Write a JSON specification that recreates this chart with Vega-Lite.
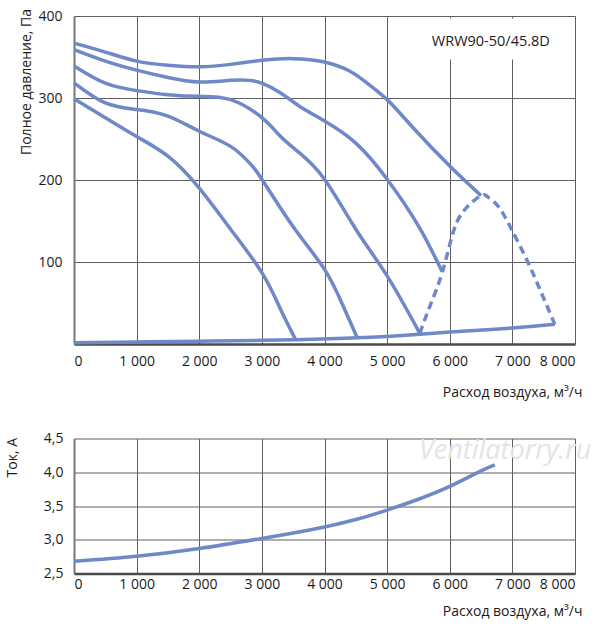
{
  "$schema": "https://vega.github.io/schema/vega-lite/v6.json",
  "padding": {"left": 5, "top": 8, "right": 5, "bottom": 5},
  "bounds": "flush",
  "spacing": 94.5,
  "background": "white",
  "config": {
    "font": "Open Sans",
    "view": {"stroke": null},
    "axis": {
      "grid": true,
      "gridColor": "#5f5f5f",
      "gridWidth": 1,
      "ticks": false,
      "labelFont": "Open Sans",
      "labelFontSize": 14,
      "labelColor": "#1d1a1b",
      "titleFont": "Open Sans",
      "titleFontSize": 14,
      "titleFontWeight": "normal",
      "titleColor": "#1d1a1b"
    },
    "axisX": {"domainColor": "#4a4a4a", "domainWidth": 2.5},
    "axisY": {"domainColor": "#777777", "domainWidth": 2}
  },
  "datasets": {
    "pressure": [
      {"series": "n1", "kind": "solid", "q": 0, "p": 367},
      {"series": "n1", "kind": "solid", "q": 500, "p": 356},
      {"series": "n1", "kind": "solid", "q": 1000, "p": 345},
      {"series": "n1", "kind": "solid", "q": 1500, "p": 340},
      {"series": "n1", "kind": "solid", "q": 2000, "p": 338},
      {"series": "n1", "kind": "solid", "q": 2500, "p": 341},
      {"series": "n1", "kind": "solid", "q": 3000, "p": 346},
      {"series": "n1", "kind": "solid", "q": 3500, "p": 348},
      {"series": "n1", "kind": "solid", "q": 4000, "p": 344},
      {"series": "n1", "kind": "solid", "q": 4400, "p": 333},
      {"series": "n1", "kind": "solid", "q": 4650, "p": 320},
      {"series": "n1", "kind": "solid", "q": 5000, "p": 298},
      {"series": "n1", "kind": "solid", "q": 5400, "p": 265},
      {"series": "n1", "kind": "solid", "q": 6000, "p": 217},
      {"series": "n1", "kind": "solid", "q": 6500, "p": 181},
      {"series": "n2", "kind": "solid", "q": 0, "p": 359},
      {"series": "n2", "kind": "solid", "q": 500, "p": 345},
      {"series": "n2", "kind": "solid", "q": 1000, "p": 334},
      {"series": "n2", "kind": "solid", "q": 1500, "p": 325},
      {"series": "n2", "kind": "solid", "q": 2000, "p": 319.5},
      {"series": "n2", "kind": "solid", "q": 2500, "p": 321.5},
      {"series": "n2", "kind": "solid", "q": 2800, "p": 321.5},
      {"series": "n2", "kind": "solid", "q": 3000, "p": 318},
      {"series": "n2", "kind": "solid", "q": 3300, "p": 306},
      {"series": "n2", "kind": "solid", "q": 3600, "p": 290},
      {"series": "n2", "kind": "solid", "q": 4000, "p": 272},
      {"series": "n2", "kind": "solid", "q": 4500, "p": 245},
      {"series": "n2", "kind": "solid", "q": 5000, "p": 201},
      {"series": "n2", "kind": "solid", "q": 5500, "p": 144},
      {"series": "n2", "kind": "solid", "q": 5880, "p": 88},
      {"series": "n3", "kind": "solid", "q": 0, "p": 339},
      {"series": "n3", "kind": "solid", "q": 500, "p": 318},
      {"series": "n3", "kind": "solid", "q": 1000, "p": 309},
      {"series": "n3", "kind": "solid", "q": 1500, "p": 304},
      {"series": "n3", "kind": "solid", "q": 2000, "p": 302},
      {"series": "n3", "kind": "solid", "q": 2500, "p": 298},
      {"series": "n3", "kind": "solid", "q": 3000, "p": 276},
      {"series": "n3", "kind": "solid", "q": 3300, "p": 253},
      {"series": "n3", "kind": "solid", "q": 3600, "p": 233},
      {"series": "n3", "kind": "solid", "q": 4000, "p": 201},
      {"series": "n3", "kind": "solid", "q": 4500, "p": 140},
      {"series": "n3", "kind": "solid", "q": 5000, "p": 83},
      {"series": "n3", "kind": "solid", "q": 5522, "p": 13},
      {"series": "n4", "kind": "solid", "q": 0, "p": 318.5},
      {"series": "n4", "kind": "solid", "q": 500, "p": 294},
      {"series": "n4", "kind": "solid", "q": 1000, "p": 286},
      {"series": "n4", "kind": "solid", "q": 1500, "p": 278},
      {"series": "n4", "kind": "solid", "q": 2000, "p": 259.5},
      {"series": "n4", "kind": "solid", "q": 2500, "p": 241},
      {"series": "n4", "kind": "solid", "q": 2800, "p": 221},
      {"series": "n4", "kind": "solid", "q": 3000, "p": 201},
      {"series": "n4", "kind": "solid", "q": 3500, "p": 143},
      {"series": "n4", "kind": "solid", "q": 4000, "p": 91},
      {"series": "n4", "kind": "solid", "q": 4300, "p": 46},
      {"series": "n4", "kind": "solid", "q": 4526, "p": 7},
      {"series": "n5", "kind": "solid", "q": 0, "p": 299},
      {"series": "n5", "kind": "solid", "q": 500, "p": 276},
      {"series": "n5", "kind": "solid", "q": 1000, "p": 253},
      {"series": "n5", "kind": "solid", "q": 1500, "p": 229},
      {"series": "n5", "kind": "solid", "q": 2000, "p": 190},
      {"series": "n5", "kind": "solid", "q": 2500, "p": 140},
      {"series": "n5", "kind": "solid", "q": 3000, "p": 87},
      {"series": "n5", "kind": "solid", "q": 3300, "p": 42},
      {"series": "n5", "kind": "solid", "q": 3541, "p": 5},
      {"series": "sys", "kind": "solid", "q": 0, "p": 1.5},
      {"series": "sys", "kind": "solid", "q": 1000, "p": 2.5},
      {"series": "sys", "kind": "solid", "q": 2000, "p": 3.5},
      {"series": "sys", "kind": "solid", "q": 3000, "p": 4.5},
      {"series": "sys", "kind": "solid", "q": 3541, "p": 5.2},
      {"series": "sys", "kind": "solid", "q": 4526, "p": 7.5},
      {"series": "sys", "kind": "solid", "q": 5522, "p": 12},
      {"series": "sys", "kind": "solid", "q": 6000, "p": 14.5},
      {"series": "sys", "kind": "solid", "q": 7000, "p": 19.5},
      {"series": "sys", "kind": "solid", "q": 7678, "p": 24},
      {"series": "limit", "kind": "dashed", "q": 5522, "p": 13},
      {"series": "limit", "kind": "dashed", "q": 5682, "p": 46},
      {"series": "limit", "kind": "dashed", "q": 5879, "p": 87},
      {"series": "limit", "kind": "dashed", "q": 6054, "p": 136},
      {"series": "limit", "kind": "dashed", "q": 6241, "p": 164},
      {"series": "limit", "kind": "dashed", "q": 6500, "p": 181},
      {"series": "limit", "kind": "dashed", "q": 6613, "p": 179},
      {"series": "limit", "kind": "dashed", "q": 6773, "p": 168},
      {"series": "limit", "kind": "dashed", "q": 6986, "p": 140},
      {"series": "limit", "kind": "dashed", "q": 7252, "p": 99},
      {"series": "limit", "kind": "dashed", "q": 7465, "p": 62},
      {"series": "limit", "kind": "dashed", "q": 7678, "p": 24}
    ],
    "current": [
      {"q": 0, "i": 2.68},
      {"q": 1000, "i": 2.755},
      {"q": 2000, "i": 2.87},
      {"q": 3000, "i": 3.02},
      {"q": 3500, "i": 3.1},
      {"q": 4000, "i": 3.19},
      {"q": 4500, "i": 3.3},
      {"q": 5000, "i": 3.44},
      {"q": 5500, "i": 3.6},
      {"q": 6000, "i": 3.79},
      {"q": 6500, "i": 4.02},
      {"q": 6720, "i": 4.11}
    ],
    "model": [
      {"q": 6656, "p": 368, "q2": 5700, "q3": 7620, "p2": 347, "p3": 397, "text": "WRW90-50/45.8D"}
    ],
    "mark": [
      {"q": 6885, "i": 4.31, "text": "Ventilatorry.ru"}
    ]
  },
  "vconcat": [
    {
      "width": 501,
      "height": 328,
      "encoding": {
        "x": {
          "field": "q", "type": "quantitative",
          "scale": {"domain": [0, 8000], "nice": false},
          "axis": {
            "values": [0, 1000, 2000, 3000, 4000, 5000, 6000, 7000, 8000],
            "labelExpr": "replace(format(datum.value, ','), ',', ' ')",
            "labelPadding": 10,
            "title": "Расход воздуха, м³/ч",
            "titleAlign": "right",
            "titleBaseline": "middle",
            "titleX": 508,
            "titleY": 48
          }
        },
        "y": {
          "field": "p", "type": "quantitative",
          "scale": {"domain": [0, 400], "nice": false},
          "axis": {
            "values": [100, 200, 300, 400],
            "labelPadding": 12,
            "title": "Полное давление, Па",
            "titleAlign": "right",
            "titleBaseline": "alphabetic",
            "titleX": -44,
            "titleY": -7.5
          }
        }
      },
      "layer": [
        {
          "data": {"name": "pressure"},
          "transform": [{"filter": "datum.kind == 'solid'"}],
          "mark": {"type": "line", "color": "#6f88c8", "strokeWidth": 3.5, "interpolate": "natural"},
          "encoding": {"detail": {"field": "series"}}
        },
        {
          "data": {"name": "pressure"},
          "transform": [{"filter": "datum.kind == 'dashed'"}],
          "mark": {"type": "line", "color": "#6f88c8", "strokeWidth": 3.5, "interpolate": "natural", "strokeDash": [8, 5]},
          "encoding": {"detail": {"field": "series"}}
        },
        {
          "data": {"name": "model"},
          "mark": {"type": "rect", "fill": "white"},
          "encoding": {
            "x": {"field": "q2", "type": "quantitative"},
            "x2": {"field": "q3"},
            "y": {"field": "p2", "type": "quantitative"},
            "y2": {"field": "p3"}
          }
        },
        {
          "data": {"name": "model"},
          "mark": {"type": "text", "fontSize": 14.5, "color": "#1d1a1b", "font": "Open Sans"},
          "encoding": {"text": {"field": "text"}}
        }
      ]
    },
    {
      "width": 501,
      "height": 135,
      "encoding": {
        "x": {
          "field": "q", "type": "quantitative",
          "scale": {"domain": [0, 8000], "nice": false},
          "axis": {
            "values": [0, 1000, 2000, 3000, 4000, 5000, 6000, 7000, 8000],
            "labelExpr": "replace(format(datum.value, ','), ',', ' ')",
            "labelPadding": 4,
            "title": "Расход воздуха, м³/ч",
            "titleAlign": "right",
            "titleBaseline": "middle",
            "titleX": 508,
            "titleY": 38
          }
        },
        "y": {
          "field": "i", "type": "quantitative",
          "scale": {"domain": [2.5, 4.5], "nice": false},
          "axis": {
            "values": [2.5, 3, 3.5, 4, 4.5],
            "labelExpr": "replace(format(datum.value, '.1f'), '.', ',')",
            "labelPadding": 11,
            "title": "Ток, А",
            "titleAlign": "right",
            "titleBaseline": "alphabetic",
            "titleX": -58,
            "titleY": -1
          }
        }
      },
      "layer": [
        {
          "data": {"name": "mark"},
          "mark": {"type": "text", "fontSize": 27, "fontStyle": "italic", "color": "#e4e4e4", "font": "Open Sans"},
          "encoding": {"text": {"field": "text"}}
        },
        {
          "data": {"name": "current"},
          "mark": {"type": "line", "color": "#6f88c8", "strokeWidth": 3.5, "interpolate": "natural"},
          "encoding": {}
        }
      ]
    }
  ]
}
